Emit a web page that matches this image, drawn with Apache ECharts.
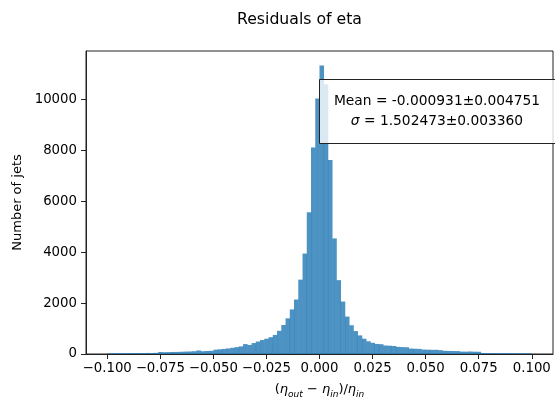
<!DOCTYPE html>
<html>
<head>
<meta charset="utf-8">
<script src="https://cdn.jsdelivr.net/npm/echarts@6/dist/echarts.min.js"></script>
<style>
html,body{margin:0;padding:0;background:#fff;}
#chart{width:555px;height:402px;}
</style>
</head>
<body>
<div id="chart"></div>
<script>
// Histogram: 100 bins from -0.1 to 0.1 (width 0.002)
const binStart = -0.1;
const binWidth = 0.002;
const counts = [
  30,32,35,33,36,38,35,40,38,42,40,45,
  80,
  72,75,80,82,88,95,100,110,140,110,118,125,
  170,185,200,220,245,270,300,390,355,430,490,550,600,660,750,910,1140,1400,1750,2140,2920,3945,5570,8110,10030,
  11330,10590,7620,4540,2900,2060,1470,1130,900,730,600,500,440,395,385,335,325,315,280,272,265,215,207,200,175,
  170,165,165,150,125,120,118,115,95,92,98,90,88,40,38,36,37,34,33,35,32,30,31,29,28
];
const xTicks = [-0.1,-0.075,-0.05,-0.025,0,0.025,0.05,0.075,0.1];
const yTicks = [0,2000,4000,6000,8000,10000];
const titleText = 'Residuals of eta';
const yLabel = 'Number of jets';
const statLines = ['Mean = -0.000931\u00b10.004751', '{i|\u03c3} = 1.502473\u00b10.003360'];

const histData = counts.map((c, i) => [binStart + i * binWidth, binStart + (i + 1) * binWidth, c]);
const FONT = 'DejaVu Sans';
const chart = echarts.init(document.getElementById('chart'), null, {renderer: 'canvas'});
chart.setOption({
  animation: false,
  backgroundColor: '#fff',
  title: {
    text: titleText, left: 232, top: 7,
    textStyle: {fontFamily: FONT, fontSize: 15.7, fontWeight: 'normal', color: '#000'}
  },
  grid: {left: 86, right: 2, top: 51, bottom: 48, outerBoundsMode: 'none', containLabel: false,
         show: true, borderColor: '#222', borderWidth: 1, backgroundColor: 'transparent'},
  xAxis: {
    type: 'value', min: -0.11, max: 0.11,
    name: '({i|\u03b7}{s|out} \u2212 {i|\u03b7}{s|in})/{i|\u03b7}{s|in}',
    nameLocation: 'middle', nameGap: 27,
    nameTextStyle: {
      fontFamily: FONT, fontSize: 13, color: '#000', lineHeight: 18,
      rich: {
        i: {fontFamily: FONT, fontSize: 13, fontStyle: 'italic', color: '#000', lineHeight: 18},
        s: {fontFamily: FONT, fontSize: 9, fontStyle: 'italic', color: '#000', verticalAlign: 'bottom', lineHeight: 18}
      }
    },
    axisLine: {show: true, onZero: false, lineStyle: {color: '#222', width: 1}},
    axisTick: {show: true, inside: false, length: 5, customValues: xTicks, lineStyle: {color: '#222'}},
    axisLabel: {
      customValues: xTicks, margin: 8, fontFamily: FONT, fontSize: 13.3, color: '#000',
      formatter: v => (v < 0 ? '\u2212' : '') + Math.abs(v).toFixed(3)
    },
    splitLine: {show: false}
  },
  yAxis: {
    type: 'value', min: 0, max: 11900,
    name: yLabel, nameLocation: 'middle', nameGap: 58,
    nameTextStyle: {fontFamily: FONT, fontSize: 13, color: '#000'},
    axisLine: {show: true, onZero: false, lineStyle: {color: '#222', width: 1}},
    axisTick: {show: true, inside: false, length: 5, customValues: yTicks, lineStyle: {color: '#222'}},
    axisLabel: {customValues: yTicks, margin: 9, fontFamily: FONT, fontSize: 13.3, color: '#000',
      formatter: v => String(v)},
    splitLine: {show: false}
  },
  series: [{
    type: 'custom',
    clip: true,
    data: histData,
    renderItem: function (params, api) {
      const p0 = api.coord([api.value(0), api.value(2)]);
      const p1 = api.coord([api.value(1), 0]);
      return {
        type: 'rect',
        shape: {x: p0[0], y: p0[1], width: p1[0] - p0[0] + 0.3, height: p1[1] - p0[1]},
        style: {fill: 'rgba(31,119,180,0.8)'}
      };
    },
    encode: {x: [0, 1], y: 2}
  }],
  graphic: [
    {type: 'rect', z: 100, shape: {x: 319.5, y: 79.5, width: 260, height: 64},
     style: {fill: 'rgba(255,255,255,0.8)', stroke: '#222', lineWidth: 1}},
    {type: 'text', z: 101, x: 437, y: 101,
     style: {text: statLines[0], font: '13.8px "DejaVu Sans"', fill: '#000', align: 'center', verticalAlign: 'middle'}},
    {type: 'text', z: 101, x: 437, y: 121,
     style: {text: statLines[1], font: '13.8px "DejaVu Sans"', fill: '#000', align: 'center', verticalAlign: 'middle',
             rich: {i: {font: 'italic 13.8px "DejaVu Sans"', fill: '#000'}}}}
  ]
});
</script>
</body>
</html>
